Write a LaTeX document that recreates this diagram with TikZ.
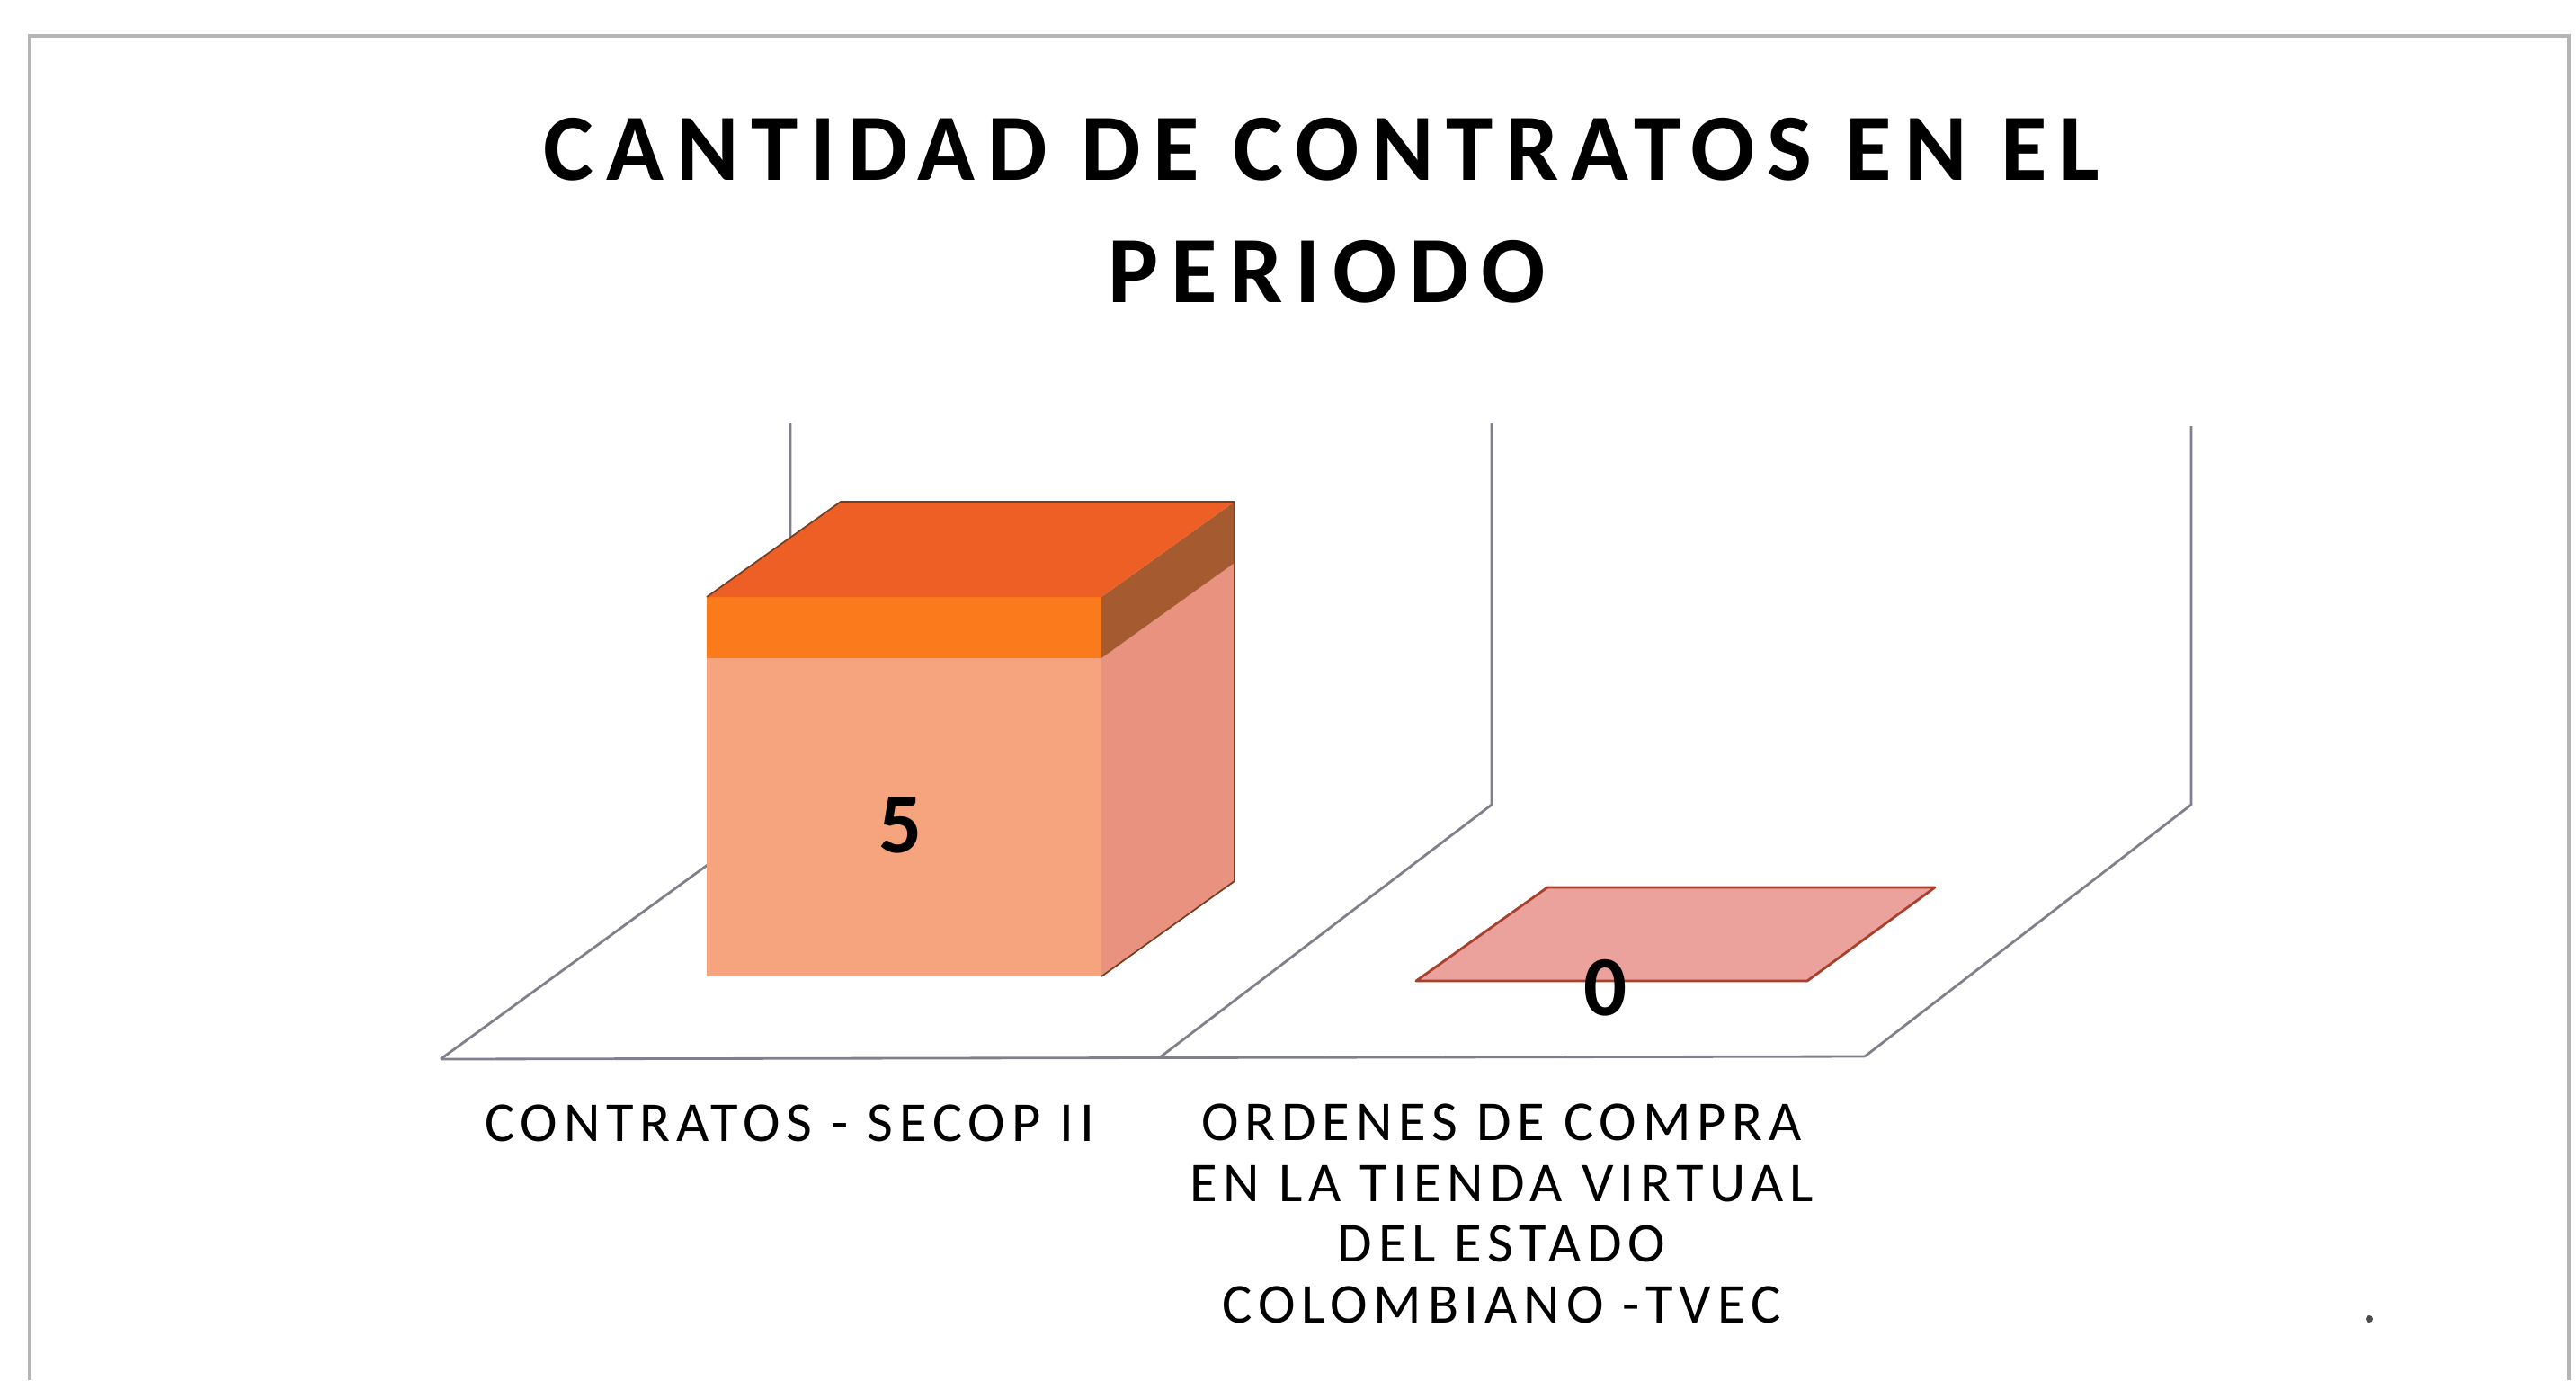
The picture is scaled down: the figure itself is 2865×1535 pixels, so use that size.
\documentclass[tikz,border=0pt]{standalone}
\usepackage{fontspec}
\setmainfont{Carlito}
\newfontfamily\titlefont[LetterSpace=13]{Carlito}
\newfontfamily\labelfont[LetterSpace=11]{Carlito}
\definecolor{topface}{HTML}{EE5F26}
\definecolor{bandface}{HTML}{FB7A1C}
\definecolor{frontface}{HTML}{F5A47E}
\definecolor{sideface}{HTML}{E8927F}
\definecolor{sideband}{HTML}{A55A30}
\definecolor{zeroface}{HTML}{EBA29C}
\definecolor{zeroedge}{HTML}{A8402E}
\definecolor{framecol}{HTML}{B5B5B5}
\definecolor{wallcol}{HTML}{80808C}
\tikzset{
  wallline/.style={draw=wallcol, line width=0.8pt},
  framestyle/.style={draw=framecol, line width=0.9pt},
  titletext/.style={font=\titlefont\bfseries\fontsize{30}{36}\selectfont, inner sep=0pt},
  cattext/.style={font=\labelfont\fontsize{17.8}{19.2}\selectfont, align=center, inner sep=0pt},
  valtext/.style={font=\bfseries\fontsize{27}{30}\selectfont, inner sep=0pt},
}
\begin{document}
\begin{tikzpicture}[x=0.01cm,y=-0.01cm]
\useasboundingbox[fill=white] (0,0) rectangle (2865,1535);
% frame
\draw[framestyle] (33,1535) -- (33,40) -- (2857,40) -- (2857,1535);
% floor and walls
\coordinate (f1) at (490,1178);
\coordinate (f2) at (1290,1176);
\coordinate (f3) at (2074,1175);
\coordinate (b1) at (879,895);
\coordinate (b2) at (1659,895);
\coordinate (b3) at (2437,895);
\coordinate (t1) at (879,471);
\coordinate (t2) at (1659,471);
\coordinate (t3) at (2437,474);
\draw[wallline] (f1) -- (f3);
\draw[wallline] (f1) -- (b1) -- (t1);
\draw[wallline] (f2) -- (b2) -- (t2);
\draw[wallline] (f3) -- (b3) -- (t3);
% bar 1
\coordinate (a1) at (786,664);
\coordinate (a2) at (1225,664);
\coordinate (a3) at (1373,558);
\coordinate (a4) at (935,558);
\coordinate (c1) at (786,732);
\coordinate (c2) at (1225,732);
\coordinate (c3) at (1373,626);
\coordinate (d1) at (786,1086);
\coordinate (d2) at (1225,1086);
\coordinate (d3) at (1373,980);
\fill[frontface] (c1) -- (c2) -- (d2) -- (d1) -- cycle;
\fill[bandface] (a1) -- (a2) -- (c2) -- (c1) -- cycle;
\fill[sideface] (c2) -- (c3) -- (d3) -- (d2) -- cycle;
\fill[sideband] (a2) -- (a3) -- (c3) -- (c2) -- cycle;
\fill[topface] (a1) -- (a2) -- (a3) -- (a4) -- cycle;
\draw[sideband!70!black, line width=0.5pt, line join=round] (a1) -- (a4) -- (a3) -- (d3) -- (d2);
\node[valtext] (v5) at (1002,918) {5};
% bar 2 (zero)
\coordinate (z1) at (1575,1091);
\coordinate (z2) at (2010,1091);
\coordinate (z3) at (2152,987);
\coordinate (z4) at (1721,987);
\fill[zeroface, draw=zeroedge, line width=0.8pt, line join=round] (z1) -- (z2) -- (z3) -- (z4) -- cycle;
\node[valtext] (v0) at (1786,1099) {0};
% titles
\node[titletext] (title1) at (1470,166) {CANTIDAD DE CONTRATOS EN EL};
\node[titletext] (title2) at (1476,302) {PERIODO};
% category labels
\node[cattext] (cat1) at (878,1249) {CONTRATOS - SECOP II};
\node[cattext] (cat2) at (1670,1350) {ORDENES DE COMPRA\\EN LA TIENDA VIRTUAL\\DEL ESTADO\\COLOMBIANO -TVEC};
% speck
\fill[black!70] (2635,1467) circle (4);
\end{tikzpicture}
\end{document}
